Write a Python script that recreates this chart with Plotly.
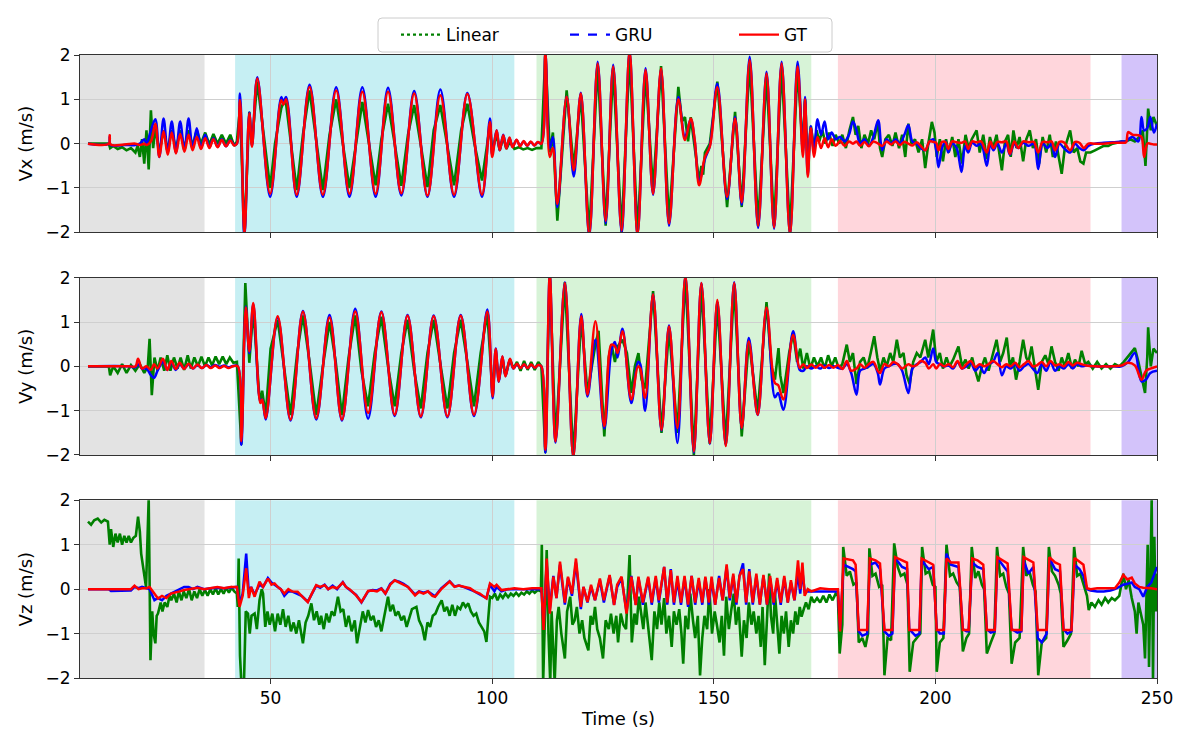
import plotly.graph_objects as go
from plotly.subplots import make_subplots

# ---------------- Vx ----------------
vx_t = [8.8, 13.5, 13.7, 13.9, 17.0, 19.5, 20.5, 21.5, 22.0, 23.0,
        24.0, 24.9, 25.85, 26.8, 27.7, 28.65, 29.6, 30.55, 31.5, 32.4,
        33.35, 34.3, 35.25, 36.2, 37.1, 38.05, 39.0, 39.95, 40.9, 41.8,
        42.4, 43.1, 44.1, 45.2, 45.8, 47.0, 49.9, 52.4, 52.9, 53.5,
        55.9, 58.8, 61.8, 64.8, 67.8, 70.7, 73.7, 76.5, 79.5, 82.4,
        85.4, 88.3, 91.4, 94.4, 97.7, 99.5, 100.0, 101.0, 101.7, 102.5,
        103.2, 103.9, 104.6, 105.5, 106.3, 107.1, 107.9, 108.7, 109.5, 110.3,
        111.1, 112.0, 113.0, 113.7, 114.7, 116.8, 118.4, 120.0, 121.9, 123.8,
        125.6, 127.3, 129.2, 131.0, 132.8, 134.6, 136.3, 138.1, 139.9, 142.0,
        143.5, 144.8, 145.7, 146.7, 148.0, 149.1, 150.8, 153.0, 154.8, 156.3,
        158.1, 160.0, 161.9, 163.6, 165.3, 167.2, 168.9, 170.1, 170.6, 171.2,
        171.9, 172.6, 173.4, 174.2, 175.0, 175.8, 176.6, 177.5, 178.5, 179.5,
        180.5, 181.4, 182.2, 183.0, 184.0, 185.0, 186.0, 187.1, 188.0, 189.0,
        190.0, 191.0, 192.0, 193.0, 193.9, 194.8, 195.8, 196.7, 197.7, 198.7,
        199.5, 200.2, 200.7, 201.5, 202.3, 202.9, 203.8, 204.8, 205.9, 206.7,
        207.4, 208.3, 209.3, 210.3, 211.6, 212.4, 213.1, 214.0, 215.0, 216.0,
        216.8, 217.8, 218.7, 219.8, 221.0, 222.2, 223.2, 224.2, 225.3, 226.2,
        227.0, 228.0, 229.0, 230.4, 231.5, 232.5, 233.5, 234.5, 236.0, 238.0,
        240.0, 242.0, 243.0, 243.5, 244.5, 245.8, 246.5, 247.1, 247.8, 248.5,
        249.3, 250.0]
vx_gt = [0, 0, 0.19, -0.02, -0.02, 0.0, -0.03, 0.0, -0.03, 0.05,
         0.45, -0.3, 0.28, -0.25, 0.25, -0.22, 0.22, -0.18, 0.2, -0.15,
         0.15, -0.12, 0.12, -0.1, 0.1, -0.08, 0.08, -0.06, 0.07, -0.04,
         0.0, 0.98, -2.05, 0.68, -0.07, 1.47, -1.13, 0.98, 0.88, 1.0,
         -1.15, 1.28, -1.15, 1.2, -1.13, 1.17, -1.13, 1.17, -1.12, 1.13,
         -1.17, 1.09, -1.15, 1.12, -1.15, 0.49, -0.3, 0.3, -0.15, 0.19,
         -0.11, 0.14, -0.08, 0.09, -0.06, 0.06, -0.05, 0.05, -0.04, 0.04,
         0.0, 2.05, -0.3, -0.1, -1.36, 1.06, -0.6, 1.13, -2.05, 1.81,
         -1.74, 1.74, -1.96, 2.05, -2.05, 1.66, -1.13, 1.7, -1.8, 1.0,
         0.08, 0.57, 0.08, -0.94, -0.3, -0.07, 1.27, -1.2, 0.57, -1.32,
         1.89, -1.85, 1.58, -1.89, 1.81, -2.05, 1.74, -0.3, 1.0, -0.75,
         0.35, -0.3, 0.15, -0.1, 0.12, -0.08, 0.1, -0.05, 0.06, -0.05,
         0.05, 0.0, 0.05, -0.05, 0.04, -0.06, 0.05, 0.0, -0.05, 0.05,
         -0.02, 0.05, -0.03, 0.04, 0.0, -0.04, 0.03, -0.05, -0.15, 0.05,
         0.04, 0.02, -0.15, 0.04, 0.03, -0.12, 0.05, 0.03, 0.02, 0.05,
         -0.12, 0.05, 0.03, 0.05, -0.2, 0.05, -0.1, 0.04, 0.03, 0.05,
         -0.23, 0.05, -0.1, 0.05, 0.03, 0.04, -0.2, 0.04, 0.03, 0.05,
         -0.15, 0.04, 0.03, -0.15, 0.04, 0.02, -0.1, 0.0, 0.0, 0.0,
         0.02, 0.02, 0.03, 0.26, 0.2, 0.19, 0.15, -0.3, 0.0, 0.0,
         -0.02, -0.02]
vx_gru = [0, 0, 0.15, -0.03, -0.03, -0.03, 0.0, 0.1, 0.0, 0.3,
          0.55, -0.3, 0.57, -0.2, 0.5, -0.2, 0.5, -0.15, 0.57, -0.12,
          0.35, -0.1, 0.2, -0.08, 0.12, -0.07, 0.1, -0.06, 0.08, -0.03,
          0.0, 1.13, -2.1, 0.7, -0.05, 1.5, -1.2, 1.05, 0.95, 1.05,
          -1.2, 1.33, -1.2, 1.27, -1.2, 1.27, -1.2, 1.26, -1.17, 1.19,
          -1.2, 1.22, -1.2, 1.14, -1.2, 0.57, -0.25, 0.3, -0.15, 0.2,
          -0.1, 0.12, -0.07, 0.08, -0.05, 0.05, -0.05, 0.04, -0.04, 0.03,
          0.0, 2.05, -0.1, 0.15, -1.43, 1.06, -0.74, 1.15, -2.1, 1.85,
          -1.8, 1.78, -2.0, 2.05, -2.05, 1.7, -1.15, 1.68, -1.85, 1.05,
          0.15, 0.55, 0.05, -0.85, -0.35, -0.05, 1.35, -1.25, 0.6, -1.38,
          1.96, -1.9, 1.62, -1.92, 1.85, -2.05, 1.85, -0.2, 1.05, -0.7,
          0.4, -0.2, 0.55, 0.2, 0.5, 0.1, 0.25, 0.1, 0.15, 0.05,
          0.2, 0.5, 0.3, 0.0, 0.1, -0.05, 0.15, 0.53, -0.15, 0.1,
          0.0, 0.1, 0.0, 0.2, 0.42, 0.05, 0.0, -0.1, -0.15, 0.05,
          0.1, -0.15, -0.53, -0.1, 0.05, -0.2, 0.0, -0.1, -0.64, -0.05,
          -0.2, 0.02, -0.05, 0.0, -0.5, 0.0, -0.15, 0.0, -0.2, 0.0,
          -0.25, 0.0, -0.1, 0.02, -0.05, 0.0, -0.57, 0.0, -0.1, 0.0,
          -0.3, 0.0, -0.1, -0.2, 0.0, -0.1, -0.15, -0.05, 0.0, 0.02,
          0.03, 0.05, 0.05, 0.1, 0.15, 0.05, 0.6, 0.3, 0.35, 0.6,
          0.25, 0.45]
vx_lin_t = [8.8, 13.5, 13.8, 14.5, 15.5, 16.5, 17.5, 18.5, 19.5, 20.0,
            20.5, 21.0, 21.5, 22.0, 22.5, 23.0, 23.5, 24.0, 24.9, 25.85,
            26.8, 27.7, 28.65, 29.6, 30.55, 31.5, 32.4, 33.35, 34.3, 35.25,
            36.2, 37.1, 38.05, 39.0, 39.95, 40.9, 41.8, 42.4, 43.1, 44.1,
            45.2, 45.8, 47.0, 48.3, 48.7, 49.9, 51.0, 51.5, 52.4, 53.0,
            53.5, 55.9, 57.3, 58.8, 60.3, 61.8, 63.3, 64.8, 66.3, 67.8,
            70.7, 72.2, 73.7, 75.0, 76.5, 78.0, 79.5, 81.0, 82.4, 84.0,
            85.4, 86.8, 88.3, 89.8, 91.4, 93.0, 94.4, 96.0, 97.7, 99.5,
            100.0, 101.0, 101.7, 102.5, 103.2, 104.0, 105.0, 106.0, 107.0, 108.0,
            109.0, 110.0, 111.1, 112.0, 113.0, 113.7, 114.7, 116.8, 118.4, 120.0,
            121.9, 123.8, 125.6, 127.3, 129.2, 131.0, 132.8, 134.6, 136.3, 138.1,
            139.9, 142.0, 142.8, 143.5, 144.2, 144.8, 145.7, 146.7, 147.2, 147.6,
            148.0, 149.1, 150.8, 153.0, 154.8, 156.3, 158.1, 160.0, 161.9, 163.6,
            165.3, 167.2, 168.9, 170.1, 170.6, 171.2, 171.9, 172.6, 173.2, 173.8,
            174.5, 175.2, 176.0, 176.8, 177.5, 178.3, 179.0, 179.8, 180.6, 181.4,
            182.0, 182.6, 183.3, 184.0, 184.8, 185.5, 186.2, 187.0, 187.5, 188.0,
            188.7, 189.5, 190.3, 191.0, 191.8, 192.5, 193.2, 193.9, 194.6, 195.4,
            196.2, 197.0, 197.7, 198.4, 199.2, 199.8, 200.3, 201.0, 201.7, 202.4,
            203.0, 203.8, 204.5, 205.2, 206.0, 206.8, 207.5, 208.2, 209.3, 210.0,
            210.8, 211.6, 212.3, 213.0, 213.8, 214.4, 215.0, 215.7, 216.4, 217.0,
            217.6, 218.3, 219.0, 219.8, 220.5, 221.3, 222.0, 222.7, 223.4, 224.2,
            225.0, 225.8, 226.5, 227.2, 227.9, 228.5, 229.2, 230.0, 230.4, 231.2,
            232.0, 232.7, 233.4, 234.0, 235.0, 236.0, 237.0, 238.0, 239.0, 240.0,
            241.0, 242.0, 243.0, 244.0, 245.0, 246.0, 246.8, 247.4, 248.0, 248.6,
            249.2, 250.0]
vx_lin = [0, 0, -0.1, -0.05, -0.12, -0.08, -0.15, -0.1, -0.2, -0.05,
          -0.3, 0.1, -0.45, 0.3, -0.58, 0.75, -0.1, 0.35, -0.2, 0.3,
          -0.15, 0.3, -0.12, 0.3, -0.1, 0.3, -0.05, 0.3, 0.0, 0.25,
          -0.02, 0.22, 0.0, 0.2, 0.0, 0.2, -0.05, 0.05, 0.8, -2.1,
          0.72, 0.0, 1.4, 0.3, 0.0, -1.0, 0.0, 0.3, 0.8, 0.95,
          0.9, -1.05, 0.2, 1.2, 0.1, -1.05, 0.2, 1.0, 0.0, -1.0,
          0.94, 0.0, -0.94, 0.1, 0.9, 0.0, -0.95, 0.2, 0.87, -0.1,
          -0.98, 0.3, 0.87, 0.0, -0.94, 0.3, 0.9, 0.0, -0.83, 0.42,
          -0.15, 0.2, -0.15, 0.15, -0.12, 0.05, -0.12, -0.08, -0.13, -0.1,
          -0.14, -0.1, -0.1, 2.05, -0.2, 0.25, -1.74, 1.2, -0.55, 1.1,
          -2.05, 1.78, -1.85, 1.7, -2.0, 2.0, -2.05, 1.6, -1.05, 1.75,
          -1.75, 1.28, 0.5, 0.6, 0.05, 0.6, -0.07, -0.85, -0.5, -0.7,
          -0.2, 0.0, 1.4, -1.43, 0.72, -1.43, 1.85, -1.85, 1.55, -1.85,
          1.75, -2.0, 1.7, -0.1, 1.0, -0.5, 0.4, -0.1, 0.3, 0.05,
          0.3, 0.0, 0.25, -0.05, 0.2, 0.0, 0.2, -0.1, 0.3, 0.6,
          0.2, 0.4, -0.1, 0.2, 0.0, 0.3, 0.1, 0.49, -0.1, -0.3,
          0.1, 0.2, -0.05, 0.25, -0.1, 0.2, -0.3, 0.45, 0.0, 0.1,
          -0.2, 0.1, -0.55, 0.0, 0.49, 0.25, -0.3, 0.1, -0.4, 0.1,
          -0.2, 0.15, -0.3, 0.1, -0.45, 0.2, -0.1, 0.1, 0.3, -0.2,
          0.2, -0.35, 0.15, -0.1, 0.2, -0.2, -0.6, 0.05, 0.2, -0.3,
          0.3, -0.1, 0.15, -0.4, 0.1, 0.3, -0.1, 0.1, -0.45, 0.15,
          -0.2, 0.2, -0.3, 0.05, -0.3, -0.68, -0.1, 0.15, 0.3, -0.2,
          -0.1, -0.4, -0.45, -0.2, -0.2, -0.15, -0.1, -0.05, -0.05, 0.0,
          0.02, 0.05, 0.05, 0.1, 0.05, 0.15, 0.3, -0.5, 0.79, 0.3,
          0.6, 0.4]

# ---------------- Vy ----------------
vy_t = [8.8, 18.0, 19.5, 20.1, 21.0, 22.0, 23.0, 23.7, 24.5, 25.7,
        26.7, 27.6, 28.6, 29.5, 30.5, 31.5, 32.5, 33.5, 34.5, 35.5,
        36.5, 37.5, 38.5, 39.5, 40.5, 41.5, 42.6, 43.4, 44.4, 45.2,
        46.1, 47.7, 48.1, 48.9, 51.6, 54.5, 57.3, 60.3, 63.3, 66.1,
        69.1, 72.0, 75.0, 78.0, 80.9, 83.9, 86.8, 89.9, 92.9, 95.9,
        98.9, 100.1, 100.8, 101.5, 102.3, 103.0, 104.0, 104.8, 105.6, 106.4,
        107.2, 108.0, 108.8, 109.6, 110.4, 111.1, 112.0, 113.0, 114.3, 116.4,
        118.3, 120.1, 121.5, 123.3, 125.3, 126.9, 127.7, 128.3, 129.4, 131.4,
        132.9, 133.4, 134.5, 136.3, 138.2, 139.9, 141.8, 143.6, 145.5, 147.2,
        149.1, 150.8, 152.7, 154.6, 156.3, 157.9, 159.9, 161.9, 163.8, 164.5,
        165.7, 167.9, 169.4, 170.2, 171.0, 172.0, 173.0, 174.0, 175.0, 176.0,
        177.0, 178.0, 179.0, 180.0, 181.0, 182.2, 183.0, 184.0, 185.0, 186.0,
        187.0, 187.5, 188.5, 189.5, 190.5, 191.5, 192.5, 193.9, 194.8, 195.8,
        196.7, 197.7, 198.5, 199.5, 200.2, 201.0, 202.0, 203.0, 204.0, 205.0,
        206.0, 207.0, 208.0, 209.0, 210.0, 211.0, 212.0, 213.0, 214.0, 215.0,
        216.0, 217.0, 218.0, 219.0, 220.0, 221.0, 222.0, 223.0, 224.0, 225.0,
        226.0, 227.0, 228.0, 229.0, 230.0, 231.0, 232.0, 233.0, 234.0, 236.0,
        238.0, 240.0, 242.0, 243.5, 245.0, 246.5, 247.5, 248.5, 250.0]
vy_gt = [0, 0, 0.0, 0.17, -0.05, 0.0, -0.08, 0.05, -0.05, 0.17,
         -0.08, 0.12, -0.06, 0.08, -0.06, 0.06, -0.05, 0.04, -0.04, 0.03,
         -0.04, 0.02, -0.04, 0.01, -0.04, 0.0, 0.0, -1.69, 1.33, 0.34,
         1.43, -0.83, -0.75, -1.17, 1.13, -1.2, 1.23, -1.17, 1.1, -1.2,
         1.24, -1.05, 1.22, -1.09, 1.14, -1.13, 1.13, -1.13, 1.14, -1.09,
         1.24, -0.68, 0.39, -0.34, 0.23, -0.23, 0.17, -0.05, 0.06, -0.04,
         0.05, -0.04, 0.04, -0.03, 0.03, 0.0, -1.88, 2.05, -1.69, 1.88,
         -2.05, 1.13, -0.64, 1.02, -1.35, 0.49, 0.45, 0.3, 0.79, -0.75,
         0.0, -0.05, -0.71, 1.62, -1.43, 0.9, -1.39, 2.05, -1.92, 1.88,
         -1.73, 1.5, -1.8, 1.88, -1.39, 0.56, -1.09, 1.33, -0.38, -0.42,
         -0.75, 0.71, -0.04, 0.05, -0.04, 0.04, -0.03, 0.04, -0.03, 0.03,
         -0.03, 0.03, -0.06, 0.12, -0.1, -0.05, 0.05, -0.03, 0.05, 0.1,
         -0.1, -0.15, 0.05, 0.0, 0.1, 0.05, -0.05, 0.05, 0.0, 0.03,
         0.12, 0.08, -0.05, 0.05, -0.05, 0.05, 0.0, 0.05, -0.02, 0.12,
         -0.05, 0.05, 0.12, -0.02, 0.05, 0.0, 0.05, 0.12, 0.05, -0.02,
         0.05, 0.0, 0.08, -0.02, 0.05, 0.12, 0.0, 0.03, 0.1, 0.0,
         0.12, 0.02, 0.05, 0.0, 0.1, 0.02, 0.08, 0.05, 0.02, 0.0,
         0.0, 0.0, 0.02, 0.08, 0.02, -0.3, -0.1, -0.05, 0.0]
vy_gru = [0, 0, -0.02, 0.05, -0.05, -0.05, -0.2, -0.26, -0.1, 0.1,
          -0.08, 0.1, -0.08, 0.05, -0.05, 0.05, -0.05, 0.03, -0.04, 0.03,
          -0.02, 0.03, -0.01, 0.02, -0.02, 0.01, 0.0, -1.77, 1.35, 0.3,
          1.4, -0.8, -0.75, -1.2, 1.1, -1.22, 1.25, -1.2, 1.16, -1.22,
          1.3, -1.18, 1.24, -1.12, 1.16, -1.15, 1.15, -1.15, 1.16, -1.12,
          1.28, -0.72, 0.4, -0.35, 0.22, -0.22, 0.15, -0.05, 0.05, -0.04,
          0.04, -0.04, 0.03, -0.03, 0.03, 0.0, -1.95, 2.05, -1.72, 1.9,
          -2.05, 1.18, -0.68, 0.6, -1.4, 0.35, 0.55, 0.2, 0.85, -0.83,
          0.1, 0.05, -1.0, 1.62, -1.45, 0.92, -1.73, 2.05, -1.95, 1.88,
          -1.75, 1.45, -1.78, 1.9, -1.4, 0.64, -1.1, 1.3, -0.7, -0.6,
          -0.98, 0.79, -0.08, -0.1, 0.0, -0.05, 0.0, -0.05, 0.02, -0.04,
          0.0, -0.03, -0.05, 0.05, -0.15, -0.64, -0.1, -0.05, 0.0, 0.05,
          -0.15, -0.41, -0.05, 0.0, 0.05, 0.05, -0.1, -0.6, -0.05, 0.05,
          0.1, 0.2, 0.05, 0.4, 0.1, 0.05, 0.0, 0.02, -0.05, 0.1,
          -0.05, 0.0, 0.08, -0.1, 0.0, -0.15, 0.05, 0.1, 0.3, -0.2,
          0.0, -0.05, 0.05, -0.1, 0.0, 0.05, -0.05, -0.15, 0.05, -0.1,
          0.1, -0.1, 0.0, -0.05, 0.05, -0.05, 0.05, 0.0, 0.02, 0.0,
          0.0, 0.0, 0.0, 0.1, 0.3, -0.34, -0.3, -0.15, -0.1]
vy_lin_t = [8.8, 13.5, 13.8, 14.5, 15.5, 16.5, 17.5, 18.5, 19.5, 20.5,
            21.5, 22.3, 22.7, 23.2, 23.8, 24.5, 25.2, 26.0, 26.7, 27.4,
            28.2, 29.0, 29.7, 30.5, 31.3, 32.0, 32.8, 33.6, 34.4, 35.2,
            36.0, 36.8, 37.6, 38.4, 39.2, 40.0, 40.8, 41.6, 42.4, 43.4,
            44.3, 45.2, 46.1, 47.0, 47.4, 47.7, 48.1, 48.9, 50.0, 51.6,
            53.0, 54.5, 56.0, 57.3, 58.8, 60.3, 61.8, 63.3, 64.7, 66.1,
            67.6, 69.1, 70.5, 72.0, 73.5, 75.0, 76.5, 78.0, 79.5, 80.9,
            82.4, 83.9, 85.4, 86.8, 88.4, 89.9, 91.4, 92.9, 94.4, 95.9,
            97.4, 98.9, 100.1, 100.8, 101.5, 102.3, 103.0, 104.0, 104.8, 105.6,
            106.4, 107.2, 108.0, 108.8, 109.6, 110.4, 111.1, 112.0, 113.0, 114.3,
            116.4, 118.3, 120.1, 121.5, 123.3, 124.0, 125.3, 126.3, 126.9, 127.7,
            128.3, 129.4, 130.4, 131.4, 132.2, 133.0, 133.7, 134.5, 136.3, 138.2,
            139.9, 141.8, 143.6, 145.5, 147.2, 149.1, 150.8, 152.7, 154.6, 156.3,
            157.9, 159.9, 161.9, 163.0, 163.8, 164.6, 165.0, 165.7, 166.3, 167.0,
            167.9, 168.8, 169.5, 170.2, 171.0, 171.8, 172.6, 173.4, 174.2, 175.0,
            175.8, 176.6, 177.4, 178.2, 179.0, 180.0, 180.7, 181.4, 182.2, 183.0,
            183.8, 184.6, 185.4, 186.2, 186.9, 187.5, 188.3, 189.0, 189.8, 190.5,
            191.3, 192.0, 192.8, 193.5, 194.2, 195.0, 195.8, 196.6, 197.7, 198.4,
            199.5, 200.2, 201.0, 201.7, 202.5, 203.2, 204.0, 205.2, 206.0, 206.8,
            207.5, 208.3, 209.0, 209.7, 210.5, 211.2, 212.0, 212.8, 213.8, 214.6,
            215.3, 216.1, 216.8, 217.5, 218.2, 219.0, 219.8, 220.5, 221.0, 221.7,
            222.5, 223.2, 224.0, 224.8, 225.5, 226.2, 227.0, 227.8, 228.5, 229.2,
            230.0, 230.8, 231.5, 232.3, 233.0, 233.8, 234.5, 235.5, 236.5, 237.5,
            238.5, 239.5, 240.5, 241.5, 242.5, 243.3, 244.0, 245.0, 245.8, 246.5,
            247.3, 247.8, 248.0, 248.6, 249.2, 250.0]
vy_lin = [0, 0, -0.2, 0.0, -0.15, 0.05, -0.15, 0.03, -0.1, 0.05,
          -0.15, 0.0, 0.62, -0.65, 0.2, -0.1, 0.2, -0.1, 0.25, -0.1,
          0.2, -0.05, 0.2, -0.08, 0.25, -0.05, 0.2, 0.0, 0.22, 0.0,
          0.2, 0.02, 0.22, 0.05, 0.22, 0.05, 0.2, 0.08, 0.1, -1.77,
          1.88, 0.08, 1.3, 0.0, -0.6, -0.75, -0.55, -1.1, 0.4, 1.05,
          0.0, -1.1, 0.3, 1.15, 0.1, -1.1, 0.0, 1.0, 0.1, -1.1,
          0.2, 1.15, -0.1, -0.9, 0.3, 1.12, 0.0, -0.9, 0.3, 1.05,
          -0.1, -0.95, 0.3, 1.05, 0.0, -0.95, 0.3, 1.05, 0.1, -0.9,
          0.3, 1.2, -0.6, 0.3, -0.3, 0.15, -0.2, 0.15, -0.05, 0.1,
          -0.1, 0.12, -0.08, 0.1, -0.08, 0.1, 0.0, -1.95, 2.05, -1.69,
          1.9, -2.05, 1.1, -0.6, 0.5, 0.8, -1.58, 0.2, 0.5, 0.1,
          0.45, 0.6, 0.3, -0.6, 0.0, 0.3, -0.3, -0.5, 1.7, -1.5,
          0.85, -1.5, 2.05, -2.0, 1.85, -1.75, 1.45, -1.75, 1.85, -1.58,
          0.6, -1.05, 1.45, 0.0, -0.3, 0.41, -0.2, -0.6, -0.2, 0.3,
          0.75, 0.1, 0.4, -0.05, 0.3, -0.05, 0.2, 0.0, 0.2, -0.05,
          0.25, 0.0, 0.2, -0.05, 0.05, 0.49, 0.1, 0.3, -0.4, 0.1,
          0.2, -0.05, 0.3, 0.68, 0.2, -0.1, 0.2, 0.0, 0.3, 0.1,
          0.6, 0.2, 0.3, -0.2, -0.4, 0.1, 0.3, 0.2, 0.6, 0.2,
          0.83, 0.1, 0.3, -0.05, 0.2, 0.0, 0.15, 0.45, 0.0, 0.15,
          -0.05, 0.2, -0.1, -0.34, 0.0, 0.2, -0.1, 0.2, 0.6, 0.1,
          0.3, 0.65, 0.0, 0.2, -0.3, 0.1, 0.6, 0.2, 0.1, 0.45,
          -0.1, -0.53, 0.1, 0.25, 0.05, 0.45, 0.1, -0.1, 0.2, 0.0,
          0.3, -0.05, 0.15, 0.0, 0.35, 0.05, 0.1, -0.05, 0.1, -0.05,
          0.05, -0.05, 0.05, 0.0, 0.1, 0.2, 0.3, 0.41, 0.1, -0.2,
          -0.6, 0.2, 0.88, 0.0, 0.4, 0.3]

# ---------------- Vz ----------------
vz_t = [8.8, 13.5, 14.0, 18.5, 19.3, 20.2, 21.0, 22.0, 22.7, 23.8,
        24.6, 25.5, 26.5, 27.5, 28.5, 29.5, 30.5, 31.5, 32.5, 33.5,
        35.0, 36.5, 38.0, 39.5, 41.0, 42.4, 43.0, 43.7, 44.5, 45.1,
        45.6, 46.4, 47.5, 48.3, 49.4, 50.2, 50.9, 51.6, 52.3, 53.1,
        54.0, 54.8, 56.1, 57.0, 58.4, 59.3, 60.3, 61.2, 62.2, 63.0,
        64.0, 65.0, 66.3, 67.0, 67.8, 69.3, 70.5, 72.0, 73.0, 74.0,
        75.0, 75.9, 77.0, 78.0, 79.0, 80.0, 81.0, 82.6, 83.5, 84.5,
        85.5, 86.5, 87.1, 88.5, 89.5, 90.4, 91.5, 92.5, 93.8, 95.0,
        96.0, 97.2, 98.7, 99.5, 100.5, 101.0, 102.1, 103.5, 105.0, 107.0,
        109.0, 111.1, 111.6, 112.3, 113.0, 113.8, 114.5, 115.3, 116.4, 117.1,
        118.0, 118.9, 120.0, 120.6, 121.5, 122.3, 123.2, 124.3, 125.2, 126.5,
        127.5, 128.2, 129.2, 130.3, 131.4, 132.4, 133.0, 134.0, 135.2, 136.0,
        136.9, 137.6, 138.8, 139.5, 140.3, 141.0, 141.8, 142.6, 143.4, 144.2,
        145.0, 145.8, 146.6, 147.4, 148.1, 148.9, 149.5, 150.3, 151.2, 152.0,
        152.9, 153.6, 154.4, 155.1, 155.8, 156.6, 157.3, 158.0, 158.8, 159.6,
        160.4, 161.2, 162.0, 162.7, 163.5, 164.3, 165.1, 165.9, 166.7, 167.4,
        168.2, 169.0, 169.5, 170.0, 170.5, 171.2, 172.0, 174.0, 176.0, 178.0,
        178.5, 179.3, 181.4, 182.0, 182.7, 183.5, 184.6, 185.2, 186.5, 187.5,
        188.5, 189.5, 190.3, 190.9, 192.5, 193.6, 194.1, 195.5, 196.4, 196.9,
        198.5, 199.5, 200.3, 201.0, 201.9, 202.5, 203.5, 205.2, 206.2, 207.0,
        207.5, 208.3, 209.5, 210.8, 211.6, 212.5, 213.4, 214.0, 215.5, 216.3,
        217.2, 218.5, 219.4, 219.9, 221.0, 222.1, 223.1, 224.0, 225.1, 225.7,
        227.0, 228.1, 228.9, 229.8, 230.7, 231.4, 232.5, 233.4, 234.2, 235.0,
        236.5, 238.0, 239.5, 240.5, 241.5, 242.4, 243.3, 244.3, 245.0, 246.0,
        246.9, 247.8, 248.7, 250.0]
vz_gt = [0, 0, 0, 0.0, 0.08, 0.0, 0.02, 0.02, 0.05, -0.1,
         -0.21, -0.15, -0.2, -0.1, -0.08, -0.05, -0.02, 0.0, 0.02, 0.03,
         0.0, 0.03, 0.05, 0.02, 0.05, 0.05, -0.4, -0.15, 0.47, -0.2,
         0.05, -0.17, 0.17, 0.05, 0.24, 0.1, 0.13, 0.05, 0.0, -0.1,
         0.0, -0.05, -0.06, -0.15, -0.29, -0.1, 0.09, 0.05, 0.09, 0.0,
         0.05, 0.02, 0.15, 0.05, 0.0, -0.14, -0.29, -0.04, -0.03, -0.05,
         0.01, -0.1, 0.1, 0.2, 0.15, 0.1, 0.05, -0.14, -0.06, -0.1,
         -0.05, -0.15, -0.17, 0.0, 0.1, 0.17, 0.05, 0.08, 0.05, 0.02,
         -0.05, -0.1, -0.21, 0.13, 0.05, 0.1, -0.02, 0.0, 0.02, 0.0,
         0.02, 0.02, -0.92, 0.69, -0.55, 0.28, -0.2, 0.62, -0.3, 0.28,
         -0.1, 0.69, -0.4, 0.05, -0.29, 0.1, -0.25, 0.24, -0.25, 0.32,
         -0.36, 0.1, 0.28, -0.55, 0.28, -0.36, 0.28, -0.3, 0.28, -0.3,
         0.3, -0.25, 0.5, -0.3, 0.43, -0.3, 0.3, -0.3, 0.3, -0.35,
         0.3, -0.3, 0.25, -0.3, 0.28, -0.3, 0.28, -0.35, 0.25, -0.25,
         0.56, -0.2, 0.35, -0.3, 0.3, 0.45, -0.3, 0.4, -0.3, 0.35,
         -0.35, 0.32, -0.35, 0.3, -0.3, 0.25, -0.3, 0.3, -0.3, 0.2,
         -0.25, 0.65, 0.0, 0.6, -0.15, 0.0, -0.05, 0.02, 0.0, 0.0,
         -0.95, 0.69, 0.65, 0.55, -0.92, -0.92, -0.92, 0.69, 0.65, 0.58,
         -0.92, -0.92, -0.92, 0.72, 0.65, 0.6, -0.92, -0.92, -0.92, 0.69,
         0.6, 0.55, -0.92, -0.92, -0.92, 0.69, 0.6, 0.6, -0.92, -0.92,
         -0.92, 0.69, 0.65, 0.55, -0.92, -0.92, -0.92, 0.72, 0.62, 0.58,
         -0.92, -0.92, -0.92, 0.72, 0.65, 0.6, -0.92, -0.92, -0.92, 0.72,
         0.6, 0.55, -0.92, -0.92, -0.92, 0.7, 0.62, 0.55, 0.02, 0.0,
         0.02, 0.02, 0.02, 0.02, 0.15, 0.32, 0.22, 0.26, 0.13, 0.05,
         0.03, 0.03, 0.02, 0.0]
vz_gru = [0, 0, -0.04, -0.03, 0.05, 0.02, 0.05, 0.03, 0.0, -0.25,
          -0.2, -0.25, -0.15, -0.1, -0.05, 0.0, 0.05, 0.05, 0.0, 0.05,
          0.0, 0.02, 0.03, 0.02, 0.04, 0.05, -0.3, -0.1, 0.8, -0.1,
          0.05, -0.12, 0.1, 0.05, 0.25, 0.15, 0.1, 0.05, 0.0, -0.15,
          -0.05, -0.05, -0.1, -0.15, -0.28, -0.1, 0.08, 0.03, 0.1, 0.0,
          0.08, 0.0, 0.16, 0.05, -0.02, -0.13, -0.3, -0.05, -0.02, -0.03,
          0.02, -0.1, 0.12, 0.2, 0.17, 0.12, 0.05, -0.12, -0.05, -0.08,
          -0.05, -0.12, -0.16, 0.02, 0.1, 0.18, 0.06, 0.08, 0.04, 0.0,
          -0.05, -0.12, -0.2, 0.1, -0.05, 0.05, -0.05, 0.0, 0.0, -0.01,
          0.0, 0.0, -0.8, 0.55, -0.45, 0.3, -0.2, 0.55, -0.35, 0.25,
          -0.15, 0.6, -0.45, 0.05, -0.3, 0.05, -0.25, 0.2, -0.3, 0.3,
          -0.35, 0.05, 0.25, -0.5, 0.3, -0.35, 0.25, -0.35, 0.25, -0.35,
          0.25, -0.3, 0.5, -0.35, 0.45, -0.35, 0.2, -0.35, 0.25, -0.4,
          0.3, -0.35, 0.2, -0.35, 0.25, -0.35, 0.2, -0.35, 0.3, -0.25,
          0.5, -0.25, 0.3, -0.35, 0.3, 0.58, -0.35, 0.45, -0.35, 0.3,
          -0.35, 0.3, -0.35, 0.25, -0.35, 0.2, -0.35, 0.25, -0.3, 0.15,
          -0.25, 0.35, -0.1, 0.4, -0.05, -0.05, -0.05, -0.05, -0.04, -0.05,
          -0.9, 0.55, 0.45, 0.4, -0.95, -1.05, -1.0, 0.55, 0.6, 0.45,
          -0.95, -1.05, -1.0, 0.7, 0.5, 0.45, -0.9, -1.05, -1.0, 0.65,
          0.45, 0.5, -0.9, -1.0, -1.0, 0.8, 0.55, 0.5, -0.9, -0.95,
          -0.95, 0.6, 0.5, 0.45, -0.9, -0.98, -0.95, 0.7, 0.5, 0.4,
          -0.9, -0.98, -0.95, 0.65, 0.35, 0.5, -1.1, -1.2, -1.0, 0.7,
          0.45, 0.4, -0.9, -1.0, -0.95, 0.55, 0.45, 0.3, 0.0, -0.03,
          -0.05, -0.05, -0.03, 0.0, 0.05, 0.1, 0.12, 0.15, 0.05, 0.0,
          -0.17, 0.05, 0.15, 0.5]
vz_lin_t = [8.8, 9.5, 10.2, 11.0, 11.8, 12.5, 13.3, 13.7, 14.0, 14.5,
            15.0, 15.5, 16.0, 16.5, 17.0, 17.5, 18.0, 18.5, 19.0, 19.6,
            20.1, 20.5, 20.8, 21.3, 21.9, 22.5, 22.9, 23.3, 23.6, 24.0,
            24.3, 24.6, 25.2, 25.6, 26.1, 26.7, 27.2, 27.6, 28.2, 28.8,
            29.3, 29.9, 30.4, 31.0, 31.6, 32.2, 32.8, 33.4, 34.0, 34.6,
            35.2, 35.8, 36.4, 37.0, 37.6, 38.2, 38.8, 39.4, 40.0, 40.6,
            41.2, 41.8, 42.4, 42.6, 42.8, 43.1, 43.4, 44.0, 44.4, 44.9,
            45.3, 45.7, 46.4, 46.9, 47.5, 48.0, 48.3, 48.8, 49.3, 49.8,
            50.4, 51.0, 51.6, 52.2, 52.8, 53.4, 54.0, 54.6, 55.2, 55.8,
            56.4, 57.3, 57.9, 58.5, 59.2, 59.8, 60.4, 61.0, 61.4, 62.0,
            62.6, 63.2, 63.8, 64.4, 65.2, 65.8, 66.4, 67.0, 67.6, 68.3,
            69.0, 69.5, 70.2, 70.8, 71.4, 72.0, 72.6, 73.2, 73.8, 74.4,
            75.0, 75.6, 76.5, 77.0, 77.6, 78.2, 78.8, 79.5, 80.1, 80.7,
            81.3, 81.9, 82.9, 83.5, 84.2, 84.8, 85.4, 86.0, 86.6, 87.2,
            87.8, 88.6, 89.2, 89.8, 90.4, 91.0, 91.6, 92.2, 92.8, 93.4,
            94.0, 94.6, 95.2, 95.8, 96.4, 97.0, 97.6, 98.2, 98.7, 99.3,
            99.5, 100.0, 100.6, 101.2, 101.8, 102.4, 103.0, 103.6, 104.2, 104.8,
            105.4, 106.0, 106.6, 107.2, 107.8, 108.4, 109.0, 109.6, 110.3, 111.0,
            111.2, 111.5, 112.0, 112.3, 112.7, 113.1, 113.4, 114.1, 114.6, 115.0,
            115.6, 116.4, 116.9, 117.6, 118.1, 118.6, 119.1, 119.7, 120.3, 120.8,
            121.7, 122.2, 122.7, 123.2, 123.7, 124.3, 125.0, 125.6, 126.3, 126.8,
            127.4, 128.0, 128.4, 129.0, 129.6, 130.2, 131.0, 131.5, 132.1, 132.6,
            133.1, 133.6, 134.1, 134.6, 135.3, 136.0, 136.6, 137.2, 137.7, 138.2,
            138.8, 139.3, 139.9, 140.5, 141.0, 141.6, 142.2, 142.7, 143.1, 143.6,
            144.2, 144.7, 145.3, 145.8, 146.4, 146.9, 147.4, 147.9, 148.5, 149.0,
            149.6, 150.2, 150.7, 151.3, 151.8, 152.3, 152.8, 153.4, 153.9, 154.5,
            155.0, 155.6, 156.3, 156.8, 157.4, 157.9, 158.5, 159.0, 159.6, 160.1,
            160.6, 161.0, 161.5, 162.0, 162.5, 162.9, 163.4, 163.8, 164.3, 164.8,
            165.3, 165.8, 166.3, 166.9, 167.4, 167.9, 168.4, 168.9, 169.4, 169.8,
            170.3, 170.8, 171.4, 172.0, 172.6, 173.3, 174.0, 174.7, 175.4, 176.1,
            176.8, 177.5, 178.0, 178.4, 179.0, 179.2, 180.0, 180.7, 181.5, 182.2,
            182.7, 183.5, 184.2, 184.8, 185.1, 185.8, 186.5, 187.3, 188.0, 188.5,
            189.2, 190.0, 190.7, 191.5, 192.2, 193.0, 193.7, 194.2, 195.0, 195.8,
            196.6, 197.0, 197.8, 198.6, 199.4, 200.0, 200.3, 201.0, 201.8, 202.5,
            203.3, 204.0, 204.8, 205.5, 206.2, 207.0, 207.6, 208.2, 209.0, 209.7,
            210.5, 211.0, 211.6, 212.5, 213.3, 213.9, 214.6, 215.3, 216.0, 216.6,
            217.2, 218.0, 219.0, 219.8, 220.5, 221.2, 222.0, 222.6, 223.2, 224.0,
            225.0, 225.6, 226.3, 227.0, 227.8, 228.3, 228.9, 229.8, 230.6, 231.3,
            232.0, 232.7, 233.5, 234.2, 234.6, 235.2, 236.0, 236.8, 237.5, 238.3,
            239.0, 239.8, 240.5, 241.5, 242.4, 243.0, 243.6, 244.3, 245.0, 245.4,
            245.8, 246.4, 246.9, 247.3, 247.7, 247.9, 248.2, 248.5, 248.8, 249.1,
            249.4, 249.7, 250.0]
vz_lin = [1.52, 1.45, 1.55, 1.59, 1.5, 1.56, 1.52, 1.0, 1.35, 0.95,
          1.25, 1.05, 1.25, 1.0, 1.2, 1.05, 1.2, 1.05, 1.15, 1.2,
          1.63, 1.3, 0.8, 0.5, 0.05, 2.05, -1.6, -0.5, -1.0, -1.22,
          -0.6, -0.55, -0.3, -0.5, -0.3, -0.4, -0.15, -0.25, -0.1, -0.3,
          -0.05, -0.25, -0.05, -0.2, 0.0, -0.25, -0.05, -0.2, 0.0, -0.15,
          -0.02, -0.15, 0.0, -0.12, 0.02, -0.12, 0.0, -0.1, 0.03, -0.08,
          0.03, -0.05, -0.1, -0.4, 0.69, -1.5, -2.1, -2.1, -0.5, -0.55,
          -1.0, -0.6, -0.55, -0.9, -0.25, 0.0, -0.1, -0.85, -0.5, -0.8,
          -0.55, -0.95, -0.55, -0.8, -0.45, -0.85, -0.6, -0.95, -0.75, -1.0,
          -0.7, -1.22, -0.75, -0.6, -0.32, -0.7, -0.5, -0.8, -0.6, -0.9,
          -0.55, -0.75, -0.5, -0.6, -0.17, -0.5, -0.45, -0.85, -0.6, -0.95,
          -0.7, -1.22, -0.8, -0.5, -0.75, -0.47, -0.7, -0.6, -0.85, -0.7,
          -0.95, -0.6, -0.17, -0.5, -0.35, -0.6, -0.5, -0.7, -0.6, -0.85,
          -0.65, -0.45, -0.4, -0.7, -0.85, -1.15, -0.75, -0.85, -0.6, -0.55,
          -0.4, -0.25, -0.5, -0.4, -0.6, -0.35, -0.6, -0.4, -0.45, -0.3,
          -0.4, -0.32, -0.5, -0.6, -0.55, -0.75, -0.85, -0.95, -1.19, -0.5,
          -0.17, -0.2, -0.1, -0.25, -0.12, -0.2, -0.1, -0.18, -0.1, -0.15,
          -0.08, -0.15, -0.08, -0.12, -0.05, -0.1, -0.03, -0.08, -0.02, -0.05,
          1.0, -2.1, -0.3, 0.88, -1.0, -2.1, -0.5, -2.1, -0.7, -0.4,
          -1.0, -1.56, -0.5, -0.17, -0.8, -0.7, -0.4, -1.0, -0.7, -1.1,
          -1.38, -0.6, -0.8, -0.4, -0.9, -1.1, -1.56, -0.7, -0.9, -0.55,
          -1.0, -0.6, -1.2, -0.55, -0.8, -0.9, 0.77, -1.2, -0.55, -0.8,
          -0.17, -0.6, -0.9, -0.3, -1.0, -1.6, -0.5, -0.9, -0.3, -0.8,
          -0.2, -1.0, -0.6, -1.3, -0.5, -0.8, -0.45, -1.0, -1.68, -0.6,
          -0.9, -0.1, -0.7, -1.1, -0.6, -1.94, -1.1, -0.6, -0.9, 0.0,
          -1.0, -0.5, -0.8, -1.2, -0.6, -1.5, -0.17, -0.9, -0.5, -0.1,
          -0.8, -0.4, -1.52, -0.7, -1.1, -0.3, -0.8, -0.5, -1.0, -0.6,
          -1.3, -0.4, -1.71, -0.8, 0.35, -0.6, -1.0, -0.1, -0.7, -1.45,
          -0.6, -1.0, -0.5, -1.3, -0.7, -1.0, -0.5, -0.8, -0.4, -0.62,
          -0.45, -0.3, -0.45, -0.17, -0.3, -0.2, -0.3, -0.15, -0.3, -0.12,
          -0.25, -0.1, -0.15, -1.45, -0.8, 0.95, 0.3, 0.4, 0.1, 0.15,
          -1.2, -1.1, -1.3, -1.0, 0.92, 0.3, 0.35, 0.05, 0.1, -1.94,
          -1.1, -1.15, 1.03, 0.5, 0.3, 0.35, 0.1, -1.86, -1.2, -1.1,
          -1.0, 0.95, 0.35, 0.4, 0.1, 0.05, -1.86, -1.2, -1.1, 1.0,
          0.3, 0.35, 0.15, 0.05, -1.4, -1.1, -1.0, 0.95, 0.25, 0.4,
          0.1, 0.0, -1.45, -1.2, -1.0, 0.95, 0.3, 0.35, 0.05, -0.1,
          -1.68, -1.2, -1.1, 0.95, 0.3, 0.4, 0.1, -0.05, -1.94, -1.2,
          -1.1, 0.95, 0.4, 0.3, 0.1, -0.1, -1.3, -1.15, -1.0, 0.95,
          0.3, 0.35, 0.1, -0.15, -0.47, -0.3, -0.4, -0.25, -0.35, -0.2,
          -0.3, -0.2, -0.25, -0.15, 0.35, 0.0, 0.2, -0.2, -0.5, -1.0,
          -0.3, -0.55, -0.8, -1.56, 0.2, 1.0, -1.75, 0.5, 2.05, -2.05,
          1.18, -0.5, 0.35]

# ---------------- shaded phases ----------------
span_start = [7.0, 42.0, 110.0, 178.0, 242.0]
span_end = [35.1, 105.0, 172.0, 235.0, 250.0]
span_color = ["#e3e3e3", "#c6eff3", "#d7f3d7", "#ffd6dc", "#d3c3fa"]

y_labels = ["Vx (m/s)", "Vy (m/s)", "Vz (m/s)"]
x_ticks = [50, 100, 150, 200, 250]
y_ticks = [-2, -1, 0, 1, 2]

panels = [
    (vx_t, vx_gt, vx_gru, vx_lin_t, vx_lin, "spline"),
    (vy_t, vy_gt, vy_gru, vy_lin_t, vy_lin, "spline"),
    (vz_t, vz_gt, vz_gru, vz_lin_t, vz_lin, "linear"),
]

FONT = "DejaVu Sans"
GREEN, BLUE, RED = "#008000", "#0000ff", "#ff0000"

fig = make_subplots(rows=3, cols=1, shared_xaxes=True, vertical_spacing=0.07)


def fit(a, b):
    n = min(len(a), len(b))
    return list(a[:n]), list(b[:n])


for i, (t, gt, gru, lt, lin, shape) in enumerate(panels):
    r = i + 1
    x1, y1 = fit(lt, lin)
    fig.add_trace(go.Scatter(x=x1, y=y1, mode="lines", showlegend=False,
                             line=dict(color=GREEN, width=2.6)), row=r, col=1)
    x2, y2 = fit(t, gru)
    fig.add_trace(go.Scatter(x=x2, y=y2, mode="lines", showlegend=False,
                             line=dict(color=BLUE, width=2.5, shape=shape, smoothing=1.0)), row=r, col=1)
    x3, y3 = fit(t, gt)
    fig.add_trace(go.Scatter(x=x3, y=y3, mode="lines", showlegend=False,
                             line=dict(color=RED, width=2.5, shape=shape, smoothing=1.0)), row=r, col=1)
    for s, e, c in zip(span_start, span_end, span_color):
        fig.add_shape(type="rect", x0=s, x1=e, y0=0, y1=1,
                      xref=f"x{'' if r == 1 else r}", yref=f"y{'' if r == 1 else r} domain",
                      fillcolor=c, line_width=0, layer="below")

# legend-only entries
fig.add_trace(go.Scatter(x=[None], y=[None], mode="lines", name="Linear",
                         line=dict(color=GREEN, width=2.2, dash="dot")), row=1, col=1)
fig.add_trace(go.Scatter(x=[None], y=[None], mode="lines", name="GRU",
                         line=dict(color=BLUE, width=2.2, dash="dash")), row=1, col=1)
fig.add_trace(go.Scatter(x=[None], y=[None], mode="lines", name="GT",
                         line=dict(color=RED, width=2.2)), row=1, col=1)

# plot area: 1077 x 623 px (screen 80..1157, 55..678)
PW, PH = 1077.0, 623.0
domains = [[0.7154, 1.0], [0.358, 0.6425], [0.0, 0.2852]]
for i in range(3):
    r = i + 1
    fig.update_yaxes(row=r, col=1, domain=domains[i], range=[-2, 2], tickvals=y_ticks,
                     automargin=False,
                     title=dict(text=y_labels[i], font=dict(size=18, family=FONT, color="black"), standoff=8),
                     tickfont=dict(size=17, family=FONT, color="black"),
                     showgrid=True, gridcolor="#cfcfcf", gridwidth=1, zeroline=False,
                     showline=True, linecolor="#333333", linewidth=1, mirror=True,
                     ticks="outside", ticklen=5, tickcolor="#333333")
    fig.update_xaxes(row=r, col=1, range=[7.0, 250.0], tickvals=x_ticks,
                     automargin=False,
                     showticklabels=(r == 3),
                     tickfont=dict(size=17, family=FONT, color="black"),
                     showgrid=True, gridcolor="#cfcfcf", gridwidth=1, zeroline=False,
                     showline=True, linecolor="#333333", linewidth=1, mirror=True,
                     ticks="outside", ticklen=5, tickcolor="#333333")
fig.update_xaxes(row=3, col=1, title=dict(text="Time (s)", font=dict(size=18, family=FONT, color="black"), standoff=4))

# rounded legend frame (paper coords)
lx0, lx1 = (378 - 80) / PW, (832 - 80) / PW
ly0, ly1 = (678 - 52) / PH, (678 - 18) / PH
rx, ry = 4 / PW, 4 / PH
frame = (f"M {lx0+rx},{ly0} L {lx1-rx},{ly0} Q {lx1},{ly0} {lx1},{ly0+ry} "
         f"L {lx1},{ly1-ry} Q {lx1},{ly1} {lx1-rx},{ly1} L {lx0+rx},{ly1} "
         f"Q {lx0},{ly1} {lx0},{ly1-ry} L {lx0},{ly0+ry} Q {lx0},{ly0} {lx0+rx},{ly0} Z")
fig.add_shape(type="path", path=frame, xref="paper", yref="paper",
              line=dict(color="#cccccc", width=1), fillcolor="white", layer="above")

fig.update_layout(
    width=1169, height=722,
    margin=dict(l=72, r=20, t=47, b=52, autoexpand=False),
    paper_bgcolor="white", plot_bgcolor="white",
    font=dict(family=FONT, size=16, color="black"),
    legend=dict(orientation="h", x=(396 - 80) / PW, xanchor="left",
                y=(678 - 35) / PH, yanchor="middle",
                borderwidth=0, bgcolor="rgba(0,0,0,0)",
                font=dict(size=17, family=FONT), entrywidth=114, itemwidth=40),
)

fig.write_html("out.html")
